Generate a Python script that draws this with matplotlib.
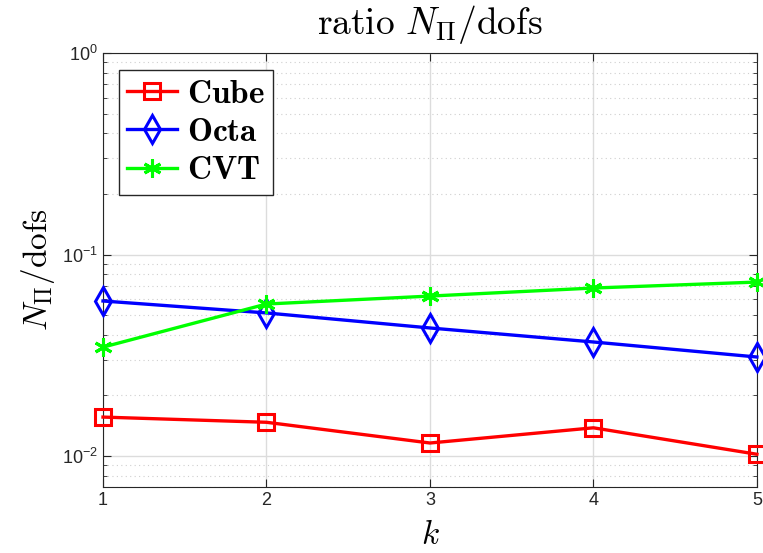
import numpy as np
import matplotlib
matplotlib.use('Agg')
import matplotlib.pyplot as plt
from matplotlib.ticker import LogLocator, NullFormatter

# values
k = [1, 2, 3, 4, 5]
cube = [0.0156, 0.0147, 0.0116, 0.0138, 0.0102]
octa = [0.0588, 0.0513, 0.0432, 0.0368, 0.0310]
cvt = [0.0347, 0.0568, 0.0622, 0.0682, 0.0730]

plt.rcParams['mathtext.fontset'] = 'cm'
plt.rcParams['font.family'] = ['Liberation Sans', 'DejaVu Sans']

fig = plt.figure(figsize=(7.63, 5.53), dpi=100)
ax = fig.add_axes([0.135, 0.119, 0.857, 0.785])

ax.plot(k, cube, color='#ff0000', lw=2.4, marker='s', ms=11, mfc='none', mew=2.2,
        label=r'$\mathbf{Cube}$', clip_on=False, zorder=3)
ax.plot(k, octa, color='#0000ff', lw=2.4, marker='d', ms=14, mfc='none', mew=2.2,
        label=r'$\mathbf{Octa}$', clip_on=False, zorder=3)
ax.plot(k, cvt, color='#00ff00', lw=2.4, marker=(6, 2, 0), ms=13, mew=2.2,
        label=r'$\mathbf{CVT}$', clip_on=False, zorder=3)

ax.set_yscale('log')
ax.set_xlim(1, 5)
ax.set_ylim(0.007, 1)
ax.set_xticks(k)
ax.yaxis.set_major_locator(LogLocator(base=10, numticks=10))
ax.yaxis.set_minor_locator(LogLocator(base=10, subs=np.arange(2, 10), numticks=10))
ax.yaxis.set_minor_formatter(NullFormatter())

ax.grid(True, which='major', color='#dcdcdc', lw=1)
ax.grid(True, which='minor', axis='y', color='#cfcfcf', lw=0.8, ls=(0, (1, 3)))
ax.set_axisbelow(True)
ax.tick_params(which='both', direction='in', top=True, right=True, labelsize=13,
               colors='#262626', labelcolor='#262626')
ax.tick_params(which='major', length=6)
ax.tick_params(which='minor', length=3)
for s in ax.spines.values():
    s.set_color('#262626')

ax.set_title(r'$\mathrm{ratio}\ N_{\Pi}/\mathrm{dofs}$', fontsize=27, pad=14)
ax.set_ylabel(r'$N_{\Pi}/\mathrm{dofs}$', fontsize=24)
ax.set_xlabel(r'$k$', fontsize=24, labelpad=8)

leg = ax.legend(loc='upper left', fontsize=24, fancybox=False, edgecolor='#262626',
                framealpha=1, handlelength=1.5, borderpad=0.25, labelspacing=0.22,
                handletextpad=0.3, borderaxespad=0, bbox_to_anchor=(0.024, 0.96))
leg.get_frame().set_linewidth(1)

fig.savefig('out.png', dpi=100)
